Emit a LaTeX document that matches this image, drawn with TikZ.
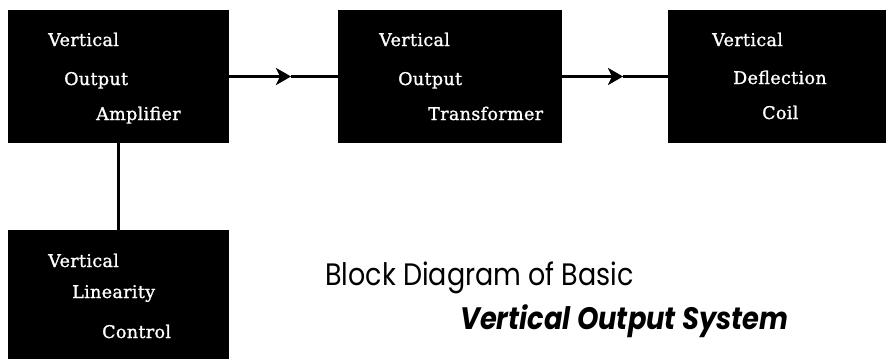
\documentclass[tikz,border=0pt]{standalone}
\usepackage{fontspec}
\newfontfamily\titlefont{Poppins}
\newfontfamily\boxfont[LetterSpace=2,FakeBold=1.2]{DejaVu Serif}
\usetikzlibrary{arrows.meta}
\tikzset{
  blk/.style={fill=black, draw=none, anchor=north west, inner sep=0pt, outer sep=0pt},
  btxt/.style={text=white, anchor=base west, inner sep=0pt,
    font=\boxfont\fontsize{17.5}{20}\selectfont},
  conn/.style={line width=3pt, draw=black},
  head/.style={-{Stealth[length=15pt,width=17pt,inset=4pt]}},
  ttl/.style={anchor=base west, inner sep=0pt, font=\titlefont\fontsize{31}{36}\selectfont}
}
\begin{document}
\begin{tikzpicture}[x=1pt,y=-1pt]
\useasboundingbox (0,0) rectangle (886,359);
% blocks
\node[blk, minimum width=221pt, minimum height=133pt] (amp) at (8,10) {};
\node[blk, minimum width=224pt, minimum height=133pt] (tr) at (338,10) {};
\node[blk, minimum width=218pt, minimum height=133pt] (coil) at (668,10) {};
\node[blk, minimum width=221pt, minimum height=129pt] (lin) at (8,230) {};
% texts
\node[btxt] (a1) at (48,46) {Vertical};
\node[btxt] (a2) at (64,85) {Output};
\node[btxt] (a3) at (96,120) {Amplifier};
\node[btxt] (t1) at (379,46) {Vertical};
\node[btxt] (t2) at (398,85) {Output};
\node[btxt] (t3) at (428,120) {Transformer};
\node[btxt] (c1) at (712,46) {Vertical};
\node[btxt] (c2) at (733,84) {Deflection};
\node[btxt] (c3) at (762,119) {Coil};
\node[btxt] (l1) at (48,267) {Vertical};
\node[btxt] (l2) at (72,298) {Linearity};
\node[btxt] (l3) at (102,338) {Control};
% connectors
\coordinate (m1) at (291,76.5);
\coordinate (m2) at (623,76.5);
\draw[conn, head] (amp.east) -- (m1);
\draw[conn] (m1) -- (tr.west);
\draw[conn, head] (tr.east) -- (m2);
\draw[conn] (m2) -- (coil.west);
\draw[conn] (amp.south) -- (lin.north);
% title
\node[ttl] (ttl1) at (325,285) {\scalebox{0.87}[1]{Block Diagram of Basic}};
\node[ttl] (ttl2) at (460,329) {\scalebox{0.88}[1]{\bfseries\itshape Vertical Output System}};
\end{tikzpicture}
\end{document}
